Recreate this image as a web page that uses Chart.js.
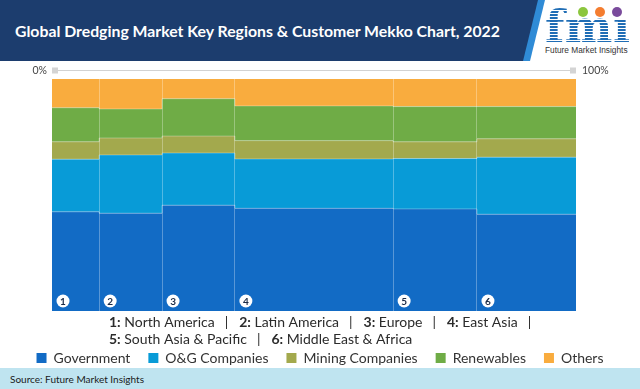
<!DOCTYPE html>
<html>
<head>
<meta charset="utf-8">
<script src="https://cdn.jsdelivr.net/npm/chart.js@4.4.1/dist/chart.umd.min.js"></script>
<style>
  html, body { margin: 0; padding: 0; background: #fff; }
  body { width: 640px; height: 389px; position: relative; overflow: hidden; font-family: Lato, "Open Sans", sans-serif; }
  .stripe { position: absolute; left: 0; top: 0; width: 640px; height: 61px; background: #2f8bd6;
    clip-path: polygon(0 0, 545px 0, 530px 61px, 0 61px); }
  .banner { position: absolute; left: 0; top: 0; width: 640px; height: 61px; background: #1c3d6e;
    clip-path: polygon(0 0, 538px 0, 523px 61px, 0 61px); }
  .title { position: absolute; left: 15px; top: 21px; color: #fff; font-weight: 700; font-size: 15.8px; white-space: nowrap; }
  .logo { position: absolute; left: 545px; top: 2px; width: 90px; height: 56px; }
  .logo .dot { position: absolute; top: 5px; width: 10px; height: 10px; border-radius: 50%; }
  .logo .fmi { position: absolute; left: 0; top: 3px; font-family: "DejaVu Serif", serif; font-weight: 700; font-size: 45px;
    line-height: 44px; letter-spacing: 0.5px; color: transparent;
    background: repeating-linear-gradient(to bottom, #1f6db5 0 2px, #ffffff 2px 3px);
    -webkit-background-clip: text; background-clip: text; }
  .logo .sub { position: absolute; left: 0; top: 43px; font-size: 8.3px; color: #333; white-space: nowrap; font-family: "Liberation Sans", sans-serif; }
  #wrap { position: absolute; left: 0; top: 61px; width: 640px; height: 314px; }
  .source { position: absolute; left: 0; top: 368px; width: 640px; height: 21px; background: #bfe4f0; z-index: 2; }
  .source span { position: absolute; left: 10px; top: 5px; font-size: 10px; color: #1a1a1a; }
</style>
</head>
<body>
<div class="stripe"></div>
<div class="banner"></div>
<div class="title">Global Dredging Market Key Regions &amp; Customer Mekko Chart, 2022</div>
<div class="logo">
  <div class="fmi">fmı</div>
  <div class="dot" style="left:33px;background:#8cc63e"></div>
  <div class="dot" style="left:50px;background:#f47d30"></div>
  <div class="dot" style="left:67px;background:#7a4b9c"></div>
  <div class="sub">Future Market Insights</div>
</div>
<div id="wrap"><canvas id="mekko"></canvas></div>
<div class="source"><span>Source: Future Market Insights</span></div>
<script>
// regions (columns), width = share of market
const regions = ['1', '2', '3', '4', '5', '6'];
const regionNames = ['North America', 'Latin America', 'Europe', 'East Asia', 'South Asia & Pacific', 'Middle East & Africa'];
const regionShare = [9.0, 12.0, 13.9, 30.2, 16.0, 18.9];

// customer split inside each region, %
const government = [42.8, 42.1, 45.6, 44.3, 44.0, 41.7];
const ogCompanies = [22.7, 25.1, 22.5, 21.3, 21.7, 24.6];
const mining = [7.5, 7.3, 7.3, 7.9, 7.2, 7.9];
const renewables = [14.7, 12.5, 16.1, 15.0, 15.2, 13.9];
const others = [12.4, 12.9, 8.5, 11.6, 11.9, 11.9];

const seriesNames = ['Government', 'O&G Companies', 'Mining Companies', 'Renewables', 'Others'];
const seriesColors = ['#126bc5', '#089bd7', '#a3a94d', '#6fac46', '#f9ac3e'];
const axisLabels = ['0%', '100%'];

const series = [government, ogCompanies, mining, renewables, others];

// left edge of each column on the 0-100 axis
const shareSum = regionShare.reduce((a, b) => a + b, 0);
const starts = [];
let acc = 0;
regionShare.forEach(s => { starts.push(acc / shareSum * 100); acc += s; });
const totals = regions.map((_, i) => series.reduce((t, s) => t + s[i], 0));

// every series is a stepped line filled down to the one below it
const datasets = series.map((vals, k) => {
    const pts = regions.map((_, i) => {
        let top = 0;
        for (let j = 0; j <= k; j++) top += series[j][i];
        return { x: starts[i], y: top / totals[i] * 100 };
    });
    pts.push({ x: 100, y: pts[pts.length - 1].y });
    return {
        label: seriesNames[k],
        data: pts,
        backgroundColor: seriesColors[k],
        borderColor: k === series.length - 1 ? 'rgba(0,0,0,0)' : 'rgba(255,255,255,0.3)',
        borderWidth: 1,
        fill: k === 0 ? 'origin' : '-1',
        stepped: 'before',
        pointRadius: 0,
        pointHoverRadius: 0
    };
});

const annotate = {
    id: 'annotate',
    afterDraw(chart) {
        const { ctx, chartArea: a } = chart;
        const x = chart.scales.x;
        const x0 = x.getPixelForValue(0), x1 = x.getPixelForValue(100);
        const ty = a.top - 9;
        ctx.save();
        // top 0% - 100% axis
        ctx.strokeStyle = '#d2d2d2';
        ctx.lineWidth = 1;
        ctx.beginPath();
        ctx.moveTo(x0 + 6, ty + 0.5);
        ctx.lineTo(x1 - 6, ty + 0.5);
        ctx.stroke();
        ctx.fillStyle = '#d4d4d4';
        ctx.fillRect(x0, ty - 2.5, 6, 6);
        ctx.fillRect(x1 - 6, ty - 2.5, 6, 6);
        ctx.font = '10.5px Lato';
        ctx.fillStyle = '#444';
        ctx.textBaseline = 'middle';
        ctx.textAlign = 'right';
        ctx.fillText(axisLabels[0], x0 - 5, ty + 0.5);
        ctx.textAlign = 'left';
        ctx.fillText(axisLabels[1], x1 + 6, ty + 0.5);

        // numbered circles
        ctx.textAlign = 'center';
        regions.forEach((r, i) => {
            const cx = x.getPixelForValue(starts[i]) + 11;
            const cy = a.bottom - 10;
            ctx.fillStyle = '#fff';
            ctx.beginPath();
            ctx.arc(cx, cy, 6.5, 0, Math.PI * 2);
            ctx.fill();
            ctx.fillStyle = '#1b2a45';
            ctx.font = 'bold 10px Lato';
            ctx.fillText(r, cx, cy + 0.5);
        });

        // region key under the plot
        ctx.textAlign = 'left';
        ctx.fillStyle = '#2b2b2b';
        let cx = 109, cy = a.bottom + 11;
        regions.forEach((r, i) => {
            if (i === 4) { cx = 109; cy = a.bottom + 28; }
            ctx.font = 'bold 14px Lato';
            ctx.fillText(r + ':', cx, cy);
            cx += ctx.measureText(r + ':').width;
            ctx.font = '14px Lato';
            ctx.fillText(' ' + regionNames[i], cx, cy);
            cx += ctx.measureText(' ' + regionNames[i]).width;
            if (i < regions.length - 1) {
                cx += 10;
                ctx.fillText('|', cx, cy);
                cx += ctx.measureText('|').width + 11;
            }
        });
        ctx.restore();
    }
};

Chart.defaults.font.family = 'Lato';

const hiddenAxis = (pos, w) => ({
    type: 'linear',
    position: pos,
    min: 0,
    max: 100,
    ticks: { display: false },
    grid: { display: false },
    border: { display: false },
    afterFit: axis => { axis.width = w; }
});

new Chart(document.getElementById('mekko'), {
    type: 'line',
    data: { datasets },
    options: {
        responsive: true,
        maintainAspectRatio: false,
        animation: false,
        layout: { padding: { left: 0, right: 0, top: 18, bottom: 0 } },
        scales: {
            x: {
                type: 'linear',
                min: 0,
                max: 100,
                ticks: { display: false },
                grid: { color: 'rgba(255,255,255,0.3)', drawTicks: false, z: 1 },
                border: { display: false },
                afterBuildTicks: axis => { axis.ticks = starts.slice(1).map(v => ({ value: v })); },
                afterFit: axis => { axis.height = 22; }
            },
            y: hiddenAxis('left', 52),
            y2: hiddenAxis('right', 64)
        },
        plugins: {
            legend: {
                position: 'bottom',
                labels: {
                    boxWidth: 10,
                    boxHeight: 10,
                    padding: 18,
                    color: '#333',
                    font: { size: 14 },
                    generateLabels(chart) {
                        return Chart.defaults.plugins.legend.labels.generateLabels(chart).map(l => {
                            l.strokeStyle = l.fillStyle;
                            l.lineWidth = 0;
                            return l;
                        });
                    }
                }
            },
            tooltip: { enabled: false }
        }
    },
    plugins: [annotate]
});
</script>
</body>
</html>
